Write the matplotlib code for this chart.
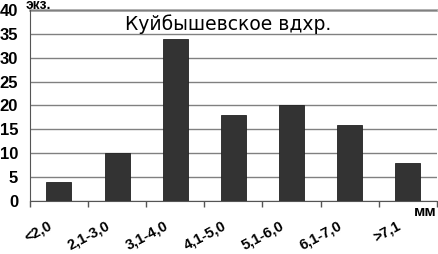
import matplotlib
matplotlib.use("Agg")
import matplotlib.pyplot as plt
import numpy as np

categories = ["<2,0", "2,1-3,0", "3,1-4,0", "4,1-5,0", "5,1-6,0", "6,1-7,0", ">7,1"]
counts = [4, 10, 34, 18, 20, 16, 8]
yticks = [0, 5, 10, 15, 20, 25, 30, 35, 40]


def main():
    fig = plt.figure(figsize=(4.39, 2.54), dpi=100)
    ax = fig.add_axes([0.068, 0.2087, 0.927, 0.752])

    x = np.arange(len(categories))
    ax.bar(x, counts, width=0.43, color="#333333", edgecolor="#222222", linewidth=0.6, zorder=3)

    ax.set_xlim(-0.5, len(categories) - 0.5)
    ax.set_ylim(0, 40)
    ax.set_yticks(yticks)
    ax.set_yticklabels([str(v) for v in yticks], fontfamily="Liberation Sans",
                       fontweight="bold", fontsize=12)
    ax.yaxis.grid(True, color="#808080", linewidth=1.0, zorder=0)
    ax.tick_params(axis="y", length=0, pad=8.5)

    # category boundaries carry the ticks, labels sit under centres
    ax.set_xticks(np.arange(-0.5, len(categories)), minor=False)
    ax.set_xticklabels([])
    ax.tick_params(axis="x", length=4, width=1, color="#555555", direction="out")
    for xi, lab in zip(x, categories):
        ax.text(xi - 0.2, -3.6, lab, rotation=28, ha="right", va="top",
                rotation_mode="anchor", fontfamily="Liberation Sans",
                fontweight="bold", fontsize=10.5)

    for side in ["top", "right"]:
        ax.spines[side].set_visible(False)
    ax.spines["left"].set_color("#555555")
    ax.spines["bottom"].set_color("#555555")
    ax.axhline(40, color="#aaaaaa", linewidth=2, zorder=1, clip_on=False)

    ax.text(0.488, 0.975, "Куйбышевское вдхр.", transform=ax.transAxes,
            ha="center", va="top", fontfamily="DejaVu Sans", fontsize=13.5)
    fig.text(0.058, 0.966, "экз.", ha="left", va="baseline", fontfamily="Liberation Sans",
             fontweight="bold", fontsize=10)
    fig.text(0.995, 0.165, "мм", ha="right", va="center", fontfamily="Liberation Sans",
             fontweight="bold", fontsize=11)

    fig.savefig("out.png", dpi=100)


if __name__ == "__main__":
    main()
